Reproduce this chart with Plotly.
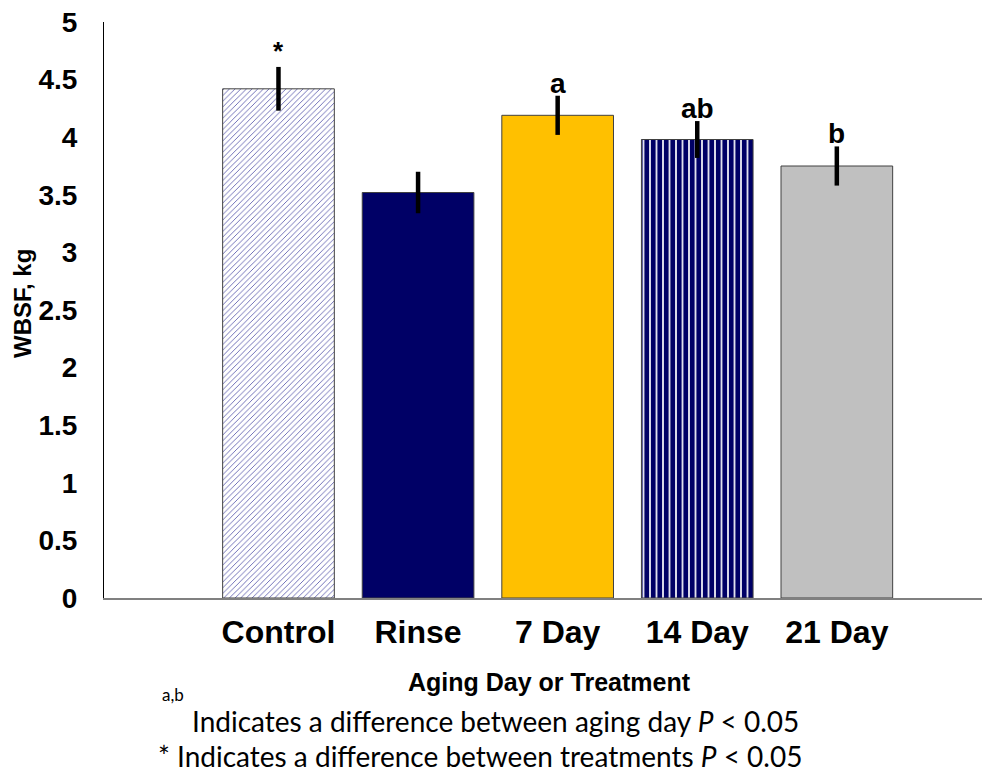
import plotly.graph_objects as go

categories = ["Control", "Rinse", "7 Day", "14 Day", "21 Day"]
wbsf = [4.42, 3.52, 4.19, 3.98, 3.75]
err = [0.19, 0.18, 0.17, 0.16, 0.17]
sig_labels = ["*", "", "a", "ab", "b"]
y_ticks = [0, 0.5, 1, 1.5, 2, 2.5, 3, 3.5, 4, 4.5, 5]

# in "replace" fill mode the marker colour is the pattern (foreground) colour
colors = ["#5050a8", "#000066", "#FFC000", "#000066", "#C0C0C0"]
pat_shapes = ["/", "", "", "|", ""]
pat_bg = ["white", "#000066", "#FFC000", "white", "#C0C0C0"]
pat_size = [4, 8, 8, 6.5, 8]
pat_solid = [0.2, 0.3, 0.3, 0.75, 0.3]

W, H = 982, 782
L, R, T, B = 104, 0, 22, 184
PW, PH = W - L - R, H - T - B


def px(xp):
    return (xp - L) / PW


def py(yp):
    return (H - B - yp) / PH


fig = go.Figure()
fig.add_trace(go.Bar(
    x=categories, y=wbsf,
    marker=dict(
        color=colors,
        line=dict(color="#404040", width=1),
        pattern=dict(shape=pat_shapes, bgcolor=pat_bg,
                     size=pat_size, solidity=pat_solid, fillmode="replace"),
    ),
    error_y=dict(type="data", array=err, visible=True, color="black",
                 thickness=4.5, width=0),
    showlegend=False,
    hoverinfo="skip",
))

for c, v, e, s in zip(categories, wbsf, err, sig_labels):
    if s:
        fig.add_annotation(x=c, y=v + e, text=s, showarrow=False,
                           yanchor="bottom", yshift=-5 if s != "*" else -1,
                           font=dict(family="Liberation Sans", size=28 if s != "*" else 26,
                                     color="black", weight="bold"))

fig.update_layout(
    width=W, height=H,
    margin=dict(l=L, r=R, t=T, b=B, autoexpand=False),
    paper_bgcolor="white", plot_bgcolor="white",
    bargap=0.2,
    font=dict(family="Liberation Sans", color="black"),
    xaxis=dict(
        type="category", range=[-1.25, 5.04],
        showline=True, linecolor="#808080", linewidth=2,
        showgrid=False, ticks="", ticklabelstandoff=5,
        tickfont=dict(family="Liberation Sans", size=32, weight="bold"),
    ),
    yaxis=dict(
        range=[0, 5], tickvals=y_ticks,
        ticktext=[str(t) if t % 1 else str(int(t)) for t in y_ticks],
        showline=True, linecolor="black", linewidth=1,
        showgrid=False, zeroline=False, ticks="", ticklabelstandoff=20,
        tickfont=dict(family="Liberation Sans", size=28, weight="bold"),
    ),
)

# axis titles
fig.add_annotation(xref="paper", yref="paper", x=px(549), y=py(682),
                   text="Aging Day or Treatment", showarrow=False,
                   xanchor="center", yanchor="middle",
                   font=dict(family="Liberation Sans", size=25, color="black", weight="bold"))
fig.add_annotation(xref="paper", yref="paper", x=px(22), y=py(304),
                   text="WBSF, kg", showarrow=False, textangle=-90,
                   xanchor="center", yanchor="middle",
                   font=dict(family="Liberation Sans", size=24, color="black", weight="bold"))

# footnotes
fig.add_annotation(xref="paper", yref="paper", x=px(160), y=py(694),
                   text="a,b", showarrow=False, xanchor="left", yanchor="middle",
                   font=dict(family="Lato", size=17, color="black"))
fig.add_annotation(xref="paper", yref="paper", x=px(190), y=py(721),
                   text="Indicates a difference between aging day <i>P</i> < 0.05", showarrow=False,
                   xanchor="left", yanchor="middle",
                   font=dict(family="Lato", size=28, color="black"))
fig.add_annotation(xref="paper", yref="paper", x=px(156), y=py(756),
                   text="* Indicates a difference between treatments <i>P</i> < 0.05", showarrow=False,
                   xanchor="left", yanchor="middle",
                   font=dict(family="Lato", size=28, color="black"))

fig.write_html("out.html", config={"displayModeBar": False},
               post_script="document.body.style.margin='0px';")
